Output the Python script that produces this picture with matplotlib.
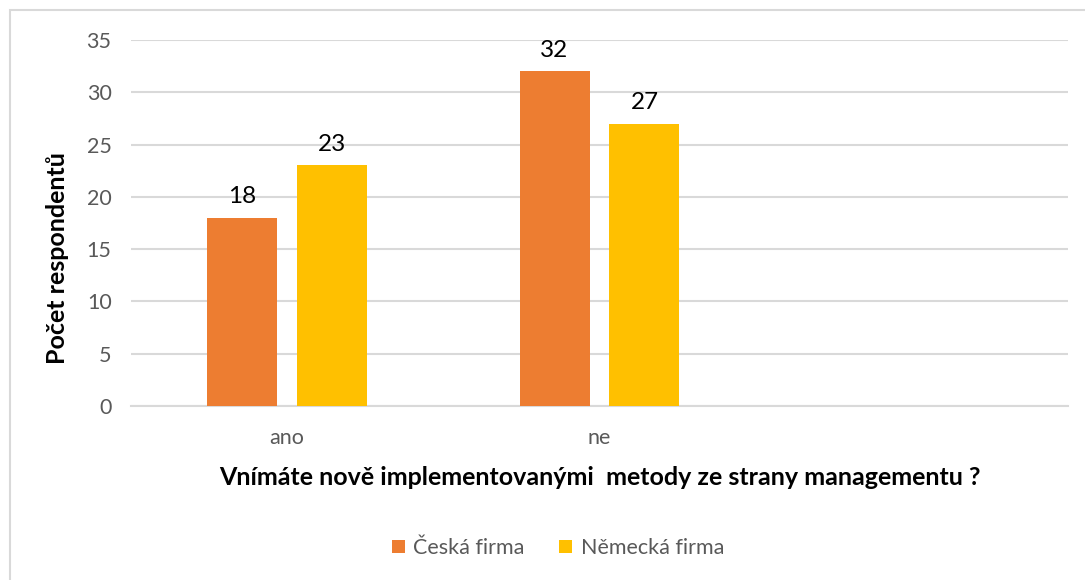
import matplotlib.pyplot as plt
import numpy as np
from matplotlib.patches import Rectangle

# Data
categories = ['ano', 'ne', '']
ceska = [18, 32, None]
nemecka = [23, 27, None]
series_names = ['Česká firma', 'Německá firma']
colors = ['#ED7D31', '#FFC000']
yticks = [0, 5, 10, 15, 20, 25, 30, 35]

plt.rcParams['font.family'] = ['Lato', 'DejaVu Sans']

W, H = 1085, 580
fig = plt.figure(figsize=(W / 100, H / 100), dpi=100)
ax = fig.add_axes([131 / W, 1 - 406 / H, (1068 - 131) / W, 366 / H])

# outer chart frame
fig.patches.append(Rectangle((10 / W, -0.1), 1.2, 1 - 10 / H + 0.1,
                             transform=fig.transFigure, fill=False,
                             edgecolor='#d9d9d9', linewidth=1.5))

x = np.arange(len(categories))
width = 0.224
offset = 0.144
for vals, off, name, col in [(ceska, -offset, series_names[0], colors[0]),
                             (nemecka, offset, series_names[1], colors[1])]:
    xs = [xi + off for xi, v in zip(x, vals) if v is not None]
    vs = [v for v in vals if v is not None]
    bars = ax.bar(xs, vs, width=width, color=col, label=name, zorder=3)
    for b, v in zip(bars, vs):
        ax.text(b.get_x() + b.get_width() / 2, v + 1.0, str(v),
                ha='center', va='bottom', fontsize=17.5, color='black')

ax.set_xlim(-0.5, 2.5)
ax.set_ylim(0, 35)
ax.set_yticks(yticks)
ax.set_xticks(x)
ax.set_xticklabels(categories)
ax.tick_params(axis='both', length=0, labelsize=15.5, labelcolor='#595959')
ax.tick_params(axis='x', pad=16)
ax.tick_params(axis='y', pad=14)
ax.grid(axis='y', color='#d9d9d9', linewidth=1.5, zorder=0)
for s in ['top', 'right', 'left']:
    ax.spines[s].set_visible(False)
ax.spines['bottom'].set_color('#d9d9d9')
ax.spines['bottom'].set_linewidth(1.5)

ax.set_xlabel('Vnímáte nově implementovanými  metody ze strany managementu ?',
              fontsize=18, fontweight='bold', color='black', labelpad=13)
ax.set_ylabel('Počet respondentů', fontsize=18, fontweight='bold',
              color='black', va='center')
ax.yaxis.set_label_coords(-0.078, 0.404)

ax.legend(loc='center', bbox_to_anchor=(558 / W, 1 - 548 / H),
          bbox_transform=fig.transFigure, ncol=2, frameon=False,
          fontsize=15.5, labelcolor='#595959', handlelength=0.6,
          handleheight=0.6, handletextpad=0.4, columnspacing=1.6)

fig.savefig('out.png', dpi=100)
